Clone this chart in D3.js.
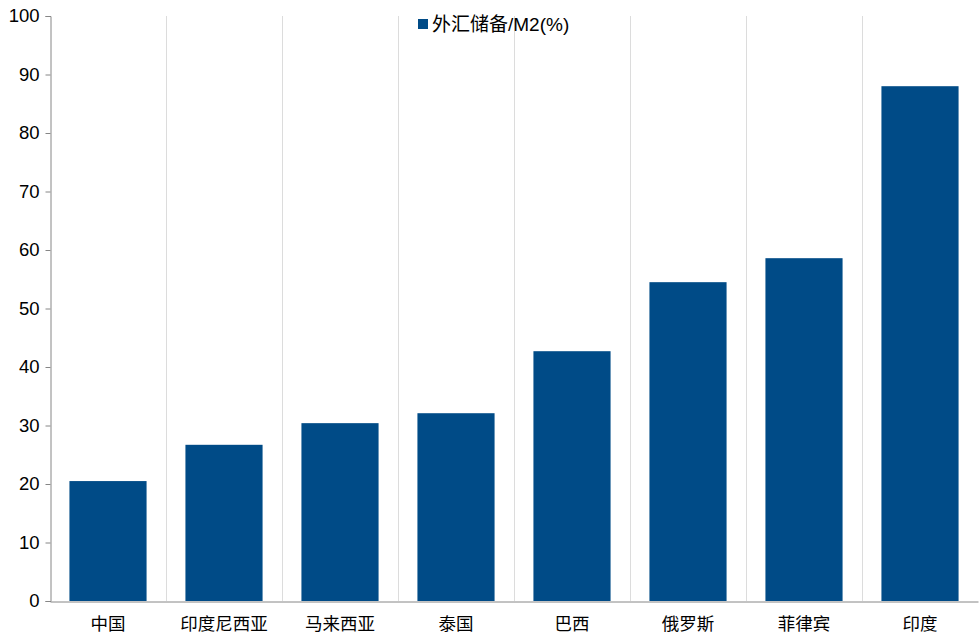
<!DOCTYPE html>
<meta charset="utf-8">
<style type="text/css">
body { margin: 0; background: #fff; }
text { font-family: 'Liberation Sans', Arial, 'Noto Sans CJK SC', sans-serif; }
.cat text { font-family: 'Noto Sans CJK SC', sans-serif; }
</style>
<script src="https://cdnjs.cloudflare.com/ajax/libs/d3/7.8.5/d3.min.js"></script>
<body>
<div class="g-chart"></div>
<script type="text/javascript">

var categories = ["中国", "印度尼西亚", "马来西亚", "泰国", "巴西", "俄罗斯", "菲律宾", "印度"];
var values = [20.5, 26.7, 30.4, 32.1, 42.7, 54.5, 58.6, 88.0];
var yTicks = [0, 10, 20, 30, 40, 50, 60, 70, 80, 90, 100];
var seriesName = "外汇储备/M2(%)";

var width = 980, height = 640;
var margin = {top: 16, left: 50, bottom: 39, right: 2};

var svg = d3.select(".g-chart").append("svg")
  .attr("width", width)
  .attr("height", height);

var x = d3.scaleBand()
  .domain(categories)
  .range([margin.left, width - margin.right])
  .paddingInner(0.335)
  .paddingOuter(0.1675);

var y = d3.scaleLinear()
  .domain([0, 100])
  .range([height - margin.bottom, margin.top]);

// vertical grid between categories
var step = x.step();
svg.append("g")
  .selectAll("line")
  .data(categories.slice(1))
  .enter().append("line")
  .attr("x1", function(d) { return Math.round(x(d) - x.paddingInner() * step / 2) + 0.5; })
  .attr("x2", function(d) { return Math.round(x(d) - x.paddingInner() * step / 2) + 0.5; })
  .attr("y1", y(100))
  .attr("y2", y(0))
  .style("stroke", "#dcdcdc");

// bars
svg.append("g")
  .selectAll("rect")
  .data(values)
  .enter().append("rect")
  .attr("x", function(d, i) { return x(categories[i]); })
  .attr("width", x.bandwidth())
  .attr("y", function(d) { return y(d); })
  .attr("height", function(d) { return y(0) - y(d); })
  .style("fill", "#004b87");

// y axis
var yAxis = d3.axisLeft(y).tickValues(yTicks).tickSize(5).tickPadding(6);
var gy = svg.append("g")
  .attr("transform", "translate(" + (margin.left + 0.5) + ",0)")
  .call(yAxis);
gy.select(".domain").style("stroke", "#868686");
gy.selectAll(".tick line").style("stroke", "#868686");
gy.selectAll(".tick text").style("font-size", "18.5px").style("fill", "#000");

// x axis
var xAxis = d3.axisBottom(x).tickSize(0).tickPadding(16);
var gx = svg.append("g")
  .attr("class", "cat")
  .attr("transform", "translate(0," + (y(0) + 0.5) + ")")
  .call(xAxis);
gx.select(".domain").style("stroke", "#868686");
gx.selectAll(".tick text").style("font-size", "17.5px").style("fill", "#000");

// legend
var legend = svg.append("g").attr("transform", "translate(418,24)");
legend.append("rect")
  .attr("x", 0).attr("y", -5)
  .attr("width", 10).attr("height", 10)
  .style("fill", "#004b87");
legend.append("text")
  .attr("x", 14).attr("y", 0)
  .attr("dy", "0.35em")
  .style("font-size", "19px")
  .style("font-family", "'Liberation Sans', 'Noto Sans CJK SC', sans-serif")
  .style("fill", "#000")
  .text(seriesName);

</script>
</body>
